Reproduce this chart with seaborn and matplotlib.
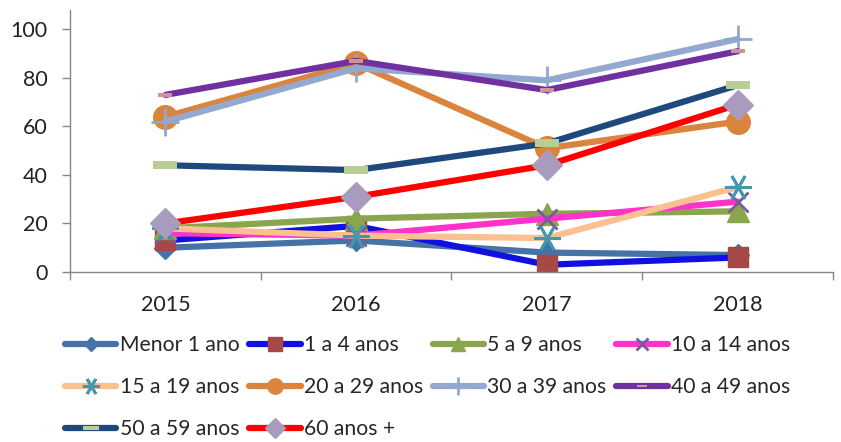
import matplotlib
matplotlib.use('Agg')
import matplotlib.pyplot as plt
import seaborn as sns
import pandas as pd
from matplotlib.path import Path
from matplotlib.ticker import FixedLocator

# data
years = ['2015', '2016', '2017', '2018']
groups = ['Menor 1 ano', '1 a 4 anos', '5 a 9 anos', '10 a 14 anos',
          '15 a 19 anos', '20 a 29 anos', '30 a 39 anos', '40 a 49 anos',
          '50 a 59 anos', '60 anos +']
menor_1 = [10, 13, 8, 7]
de_1_a_4 = [13, 19, 3, 6]
de_5_a_9 = [18, 22, 24, 25]
de_10_a_14 = [16, 15, 22, 29]
de_15_a_19 = [18, 15, 14, 35]
de_20_a_29 = [64, 86, 51, 62]
de_30_a_39 = [62, 84, 79, 96]
de_40_a_49 = [73, 87, 75, 91]
de_50_a_59 = [44, 42, 53, 77]
mais_60 = [20, 31, 44, 69]
values = [menor_1, de_1_a_4, de_5_a_9, de_10_a_14, de_15_a_19,
          de_20_a_29, de_30_a_39, de_40_a_49, de_50_a_59, mais_60]

dash = Path([(-1, -0.3), (1, -0.3), (1, 0.3), (-1, 0.3), (-1, -0.3)],
            [Path.MOVETO, Path.LINETO, Path.LINETO, Path.LINETO, Path.CLOSEPOLY])

# line colour, marker, marker colour, marker size, marker edge width
styles = [
    ('#4572A7', 'D', '#4572A7', 11, 1),
    ('#1010E0', 's', '#A64845', 15, 1),
    ('#89A54E', '^', '#89A54E', 16, 1),
    ('#FF33CC', 'x', '#7A5A9A', 14, 2),
    ('#FAC090', (6, 2, 90), '#4198AF', 19, 2),
    ('#DB843D', 'o', '#DB843D', 17, 1),
    ('#93A9CF', '+', '#8FA8D2', 20, 2),
    ('#7030A0', dash, '#D09494', 10, 0),
    ('#1F497D', dash, '#B9CD96', 17, 0),
    ('#FF0000', 'D', '#A99BBD', 15, 1),
]

sns.set_style('white')
plt.rcParams['font.family'] = ['Lato', 'DejaVu Sans']

fig = plt.figure(figsize=(8.41, 4.42), dpi=100)
ax = fig.add_axes([0.0832, 0.3846, 0.9073, 0.5928])

for name, vals, (lc, mk, mc, ms, mew) in zip(groups, values, styles):
    df = pd.DataFrame({'ano': years, 'casos': vals})
    sns.lineplot(data=df, x='ano', y='casos', ax=ax, color=lc, linewidth=4.5,
                 marker=mk, markersize=ms, markerfacecolor=mc,
                 markeredgecolor=mc, markeredgewidth=mew, label=name,
                 solid_capstyle='round', solid_joinstyle='round')

if ax.get_legend() is not None:
    ax.get_legend().remove()

ax.set_xlim(-0.5, 3.5)
ax.set_ylim(0, 108)
ax.set_yticks([0, 20, 40, 60, 80, 100])
ax.set_xlabel('')
ax.set_ylabel('')
for s in ['top', 'right']:
    ax.spines[s].set_visible(False)
for s in ['left', 'bottom']:
    ax.spines[s].set_color('#868686')
    ax.spines[s].set_linewidth(1)
ax.xaxis.set_minor_locator(FixedLocator([-0.5, 0.5, 1.5, 2.5, 3.5]))
ax.tick_params(axis='x', which='major', length=0, pad=16.5, labelsize=15.5, colors='#222222')
ax.tick_params(axis='x', which='minor', length=6, width=1, color='#868686', direction='out', bottom=True)
ax.tick_params(axis='y', length=6, width=1, color='#868686', direction='out', left=True,
               pad=10, labelsize=15.5, labelcolor='#222222')

handles, labels = ax.get_legend_handles_labels()
order = [0, 4, 8, 1, 5, 9, 2, 6, 3, 7]
fig.legend([handles[i] for i in order], [labels[i] for i in order],
           loc='upper left', bbox_to_anchor=(0.077, 0.242), ncol=4,
           frameon=False, fontsize=15.2, handlelength=2.45, handletextpad=0.15,
           columnspacing=0.45, labelspacing=1.05, borderpad=0, borderaxespad=0,
           markerscale=0.65)

plt.savefig('out.png', dpi=100)
